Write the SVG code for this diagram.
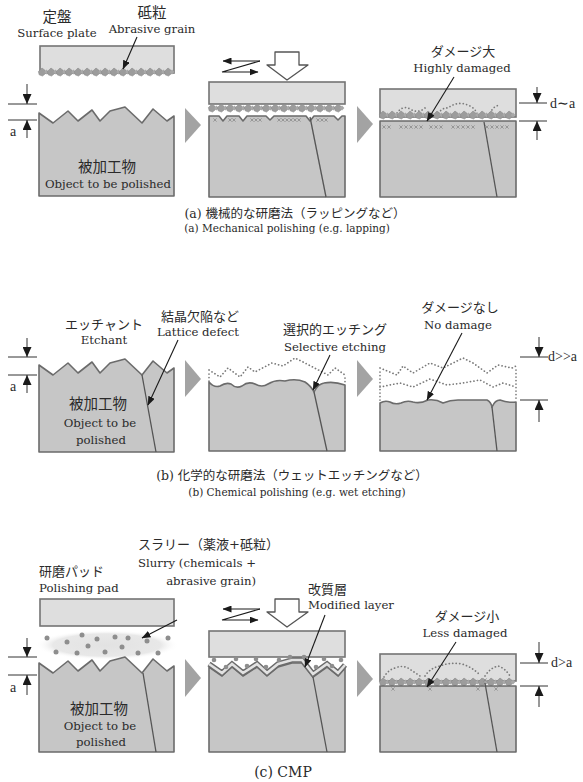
<svg xmlns="http://www.w3.org/2000/svg" width="583" height="782" viewBox="0 0 583 782">
<style>
text{fill:#2a2a2a}
.jp{font-family:"DejaVu Serif","Noto Sans CJK JP",serif;font-size:13px}
.en{font-family:"DejaVu Serif",serif;font-size:11.7px}
.dl{font-family:"Liberation Serif",serif;font-size:14px}
.big{font-size:14.5px}
.capj{font-size:12.5px}
.cap{font-size:10.5px}
.mid{text-anchor:middle}
.end{text-anchor:end}
.work{fill:#c6c6c6;stroke:#6b6b6b;stroke-width:1.6;stroke-linejoin:round}
.plate{fill:#dedede;stroke:#747474;stroke-width:1.6}
.crack{fill:none;stroke:#555;stroke-width:1.3}
.dim{stroke:#333;stroke-width:1;fill:none}
.lead{stroke:#1a1a1a;stroke-width:1.1;fill:none}
.step{fill:#a3a3a3}
.dotl{fill:none;stroke:#7a7a7a;stroke-width:1.7;stroke-dasharray:0.1 3.4;stroke-linecap:round}
.push{fill:#fff;stroke:#555;stroke-width:1.3;stroke-linejoin:round}
.sl{fill:#8e8e8e}
.xm{stroke:#8a8a8a;stroke-width:0.8;fill:none}
</style>
<defs>
  <marker id="ah" markerUnits="userSpaceOnUse" markerWidth="9" markerHeight="7" refX="8.5" refY="3.5" orient="auto"><path d="M0,0 L9,3.5 L0,7 Z" fill="#1a1a1a"/></marker>
  <marker id="dh" markerUnits="userSpaceOnUse" markerWidth="10" markerHeight="9" refX="10" refY="4.5" orient="auto"><path d="M0,0 L10,4.5 L0,9 Z" fill="#1a1a1a"/></marker>
  <radialGradient id="haze" cx="0.5" cy="0.5" r="0.5">
    <stop offset="0" stop-color="#e2e2e2"/>
    <stop offset="0.75" stop-color="#e8e8e8"/>
    <stop offset="1" stop-color="#ffffff" stop-opacity="0"/>
  </radialGradient>
  <path id="grain" d="M0,-4 L3.2,-1.5 L3.6,1.5 L0.5,4 L-2.8,2.8 L-3.6,-0.5 Z" fill="#9c9c9c" stroke="#8a8a8a" stroke-width="0.6"/>
  <path id="grainS" d="M0,-2.6 L2.4,0 L0,2.6 L-2.4,0 Z" fill="#a8a8a8"/>
  <path id="x" d="M-1.6,-1.6 L1.6,1.6 M1.6,-1.6 L-1.6,1.6" class="xm"/>
  <!-- chain of abrasive grains held on the plate face -->
  <g id="grains">
    <path d="M0,0 H132" stroke="#9a9a9a" stroke-width="1.2"/>
    <use href="#grain" x="1"/><use href="#grainS" x="5.5"/>
    <use href="#grain" x="10"/><use href="#grainS" x="14.5"/>
    <use href="#grain" x="19"/><use href="#grainS" x="23.5"/>
    <use href="#grain" x="28"/><use href="#grainS" x="32.5"/>
    <use href="#grain" x="37"/><use href="#grainS" x="41.5"/>
    <use href="#grain" x="46"/><use href="#grainS" x="50.5"/>
    <use href="#grain" x="55"/><use href="#grainS" x="59.5"/>
    <use href="#grain" x="64"/><use href="#grainS" x="68.5"/>
    <use href="#grain" x="73"/><use href="#grainS" x="77.5"/>
    <use href="#grain" x="82"/><use href="#grainS" x="86.5"/>
    <use href="#grain" x="91"/><use href="#grainS" x="95.5"/>
    <use href="#grain" x="100"/><use href="#grainS" x="104.5"/>
    <use href="#grain" x="109"/><use href="#grainS" x="113.5"/>
    <use href="#grain" x="118"/><use href="#grainS" x="122.5"/>
    <use href="#grain" x="127"/><use href="#grainS" x="131"/>
  </g>
</defs>

<!-- ===== (a) mechanical polishing ===== -->
<g id="a-plate">
  <rect class="plate" x="40" y="46" width="134" height="27"/>
  <use href="#grains" x="41" y="72"/>
  <text class="jp mid big" x="57" y="22">定盤</text>
  <text class="en mid" x="57" y="37">Surface plate</text>
  <text class="jp mid big" x="152" y="18">砥粒</text>
  <text class="en mid" x="152" y="33">Abrasive grain</text>
</g>
<g id="a-work">
  <polygon class="work" points="39,113 53,123 68,111 78,121 92,110 100,121 110,111 125,107 142,123 153,109 167,121 174,116 174,196 39,196"/>
  <text class="jp mid big" x="107" y="172">被加工物</text>
  <text class="en mid" x="108" y="188">Object to be polished</text>
</g>
<g id="a-dim">
  <path class="dim" d="M8,104 H37 M8,120 H37"/>
  <path class="dim" d="M27,84 V104" marker-end="url(#dh)"/>
  <path class="dim" d="M27,138 V120" marker-end="url(#dh)"/>
  <text class="dl" x="10" y="136">a</text>
</g>
<g id="a-lapping">
  <rect class="plate" x="209" y="82" width="136" height="22"/>
  <polygon class="work" points="209,116 219,116 223,121 227,116 239,116 243,121 247,116 266,116 270,120 274,116 306,116 310,121 314,116 334,116 338,120 342,116 345,116 345,197 209,197"/>
  <g>
    <use href="#x" x="215" y="120"/><use href="#x" x="230" y="120"/><use href="#x" x="234" y="120"/>
    <use href="#x" x="252" y="120"/><use href="#x" x="256" y="120"/><use href="#x" x="260" y="120"/>
    <use href="#x" x="279" y="120"/><use href="#x" x="283" y="120"/><use href="#x" x="287" y="120"/><use href="#x" x="291" y="120"/><use href="#x" x="295" y="120"/><use href="#x" x="299" y="120"/>
    <use href="#x" x="318" y="120"/><use href="#x" x="322" y="120"/><use href="#x" x="326" y="120"/>
  </g>
  <use href="#grains" x="211" y="108"/>
  <path class="crack" d="M310,117 L326,197"/>
  <polygon class="push" points="275,52 299,52 299,65 308,65 287,80 267,65 275,65"/>
  <path class="lead" d="M260,61 H223" marker-end="url(#ah)"/>
  <path class="lead" d="M260,61 L222,72 H258" marker-end="url(#ah)"/>
</g>
<g id="a-result">
  <rect class="plate" x="380" y="89" width="136" height="28"/>
  <path class="dotl" d="M395,116 Q402,104 410,109 Q418,114 425,108 M436,116 Q442,107 448,108 Q458,100 470,106 Q476,109 478,116 M490,113 Q495,104 500,106"/>
  <use href="#grains" x="382" y="115"/>
  <rect class="work" x="380" y="121" width="136" height="76"/>
  <g>
    <use href="#x" x="384" y="127"/><use href="#x" x="389" y="127"/>
    <use href="#x" x="401" y="127"/><use href="#x" x="406" y="127"/><use href="#x" x="411" y="127"/><use href="#x" x="416" y="127"/><use href="#x" x="421" y="127"/>
    <use href="#x" x="431" y="127"/><use href="#x" x="436" y="127"/><use href="#x" x="441" y="127"/>
    <use href="#x" x="453" y="127"/><use href="#x" x="458" y="127"/><use href="#x" x="463" y="127"/><use href="#x" x="468" y="127"/><use href="#x" x="473" y="127"/>
    <use href="#x" x="487" y="127"/><use href="#x" x="492" y="127"/><use href="#x" x="497" y="127"/><use href="#x" x="502" y="127"/><use href="#x" x="507" y="127"/>
  </g>
  <path class="crack" d="M484,122 L497,197"/>
  <text class="jp mid" x="463" y="56">ダメージ大</text>
  <text class="en mid" x="462" y="72">Highly damaged</text>
  <path class="dim" d="M519,103 H547 M519,121 H547"/>
  <path class="dim" d="M537,87 V103" marker-end="url(#dh)"/>
  <path class="dim" d="M537,140 V121" marker-end="url(#dh)"/>
  <text class="dl" x="550" y="108">d∼a</text>
</g>
<g id="a-caption">
  <text class="jp mid capj" x="295" y="218">(a) 機械的な研磨法（ラッピングなど）</text>
  <text class="en mid cap" x="287" y="232">(a) Mechanical polishing (e.g. lapping)</text>
</g>

<!-- ===== (b) chemical polishing ===== -->
<g id="b-work">
  <polygon class="work" points="39,365 53,375 68,363 78,373 92,362 100,373 110,363 125,359 142,375 153,361 167,373 174,368 174,452 39,452"/>
  <path class="crack" d="M142,375 L156,452"/>
  <text class="jp mid" x="104" y="329">エッチャント</text>
  <text class="en mid" x="104" y="344">Etchant</text>
  <text class="jp mid" x="200" y="321">結晶欠陥など</text>
  <text class="en mid" x="198" y="336">Lattice defect</text>
  <text class="jp mid big" x="98" y="409">被加工物</text>
  <text class="en mid" x="100" y="427">Object to be</text>
  <text class="en mid" x="101" y="444">polished</text>
  <path class="dim" d="M8,357 H37 M8,375 H37"/>
  <path class="dim" d="M27,338 V357" marker-end="url(#dh)"/>
  <path class="dim" d="M27,393 V375" marker-end="url(#dh)"/>
  <text class="dl" x="10" y="391">a</text>
</g>
<g id="b-etching">
  <path class="dotl" d="M209,370 L220,377 L228,368 L240,377 L248,367 L255,372 L272,363 L283,366 L295,358 L305,363 L328,375 L335,368 L345,375 M209,374 V382 M345,378 V385"/>
  <path class="work" d="M209,382 Q214,388 220,386 Q226,382 231,384 Q236,389 242,386 Q248,381 255,384 Q262,388 268,384 Q276,379 285,381 Q296,378 305,382 Q311,386 314,392 Q318,384 324,383 Q334,381 345,385 L345,451 L209,451 Z"/>
  <path class="crack" d="M314,392 L327,451"/>
  <text class="jp mid" x="335" y="334">選択的エッチング</text>
  <text class="en mid" x="335" y="351">Selective etching</text>
</g>
<g id="b-result">
  <path class="dotl" d="M380,368 L397,375 L403,366 L413,373 L430,363 L443,368 L463,358 L473,363 L487,373 L498,365 L512,368 L516,366"/>
  <path class="dotl" d="M380,387 L400,383 L413,387 L430,379 L447,385 L463,383 L480,380 L493,387 L503,383 L516,387 M380,372 V401 M516,370 V401"/>
  <path class="work" d="M380,403 Q385,400 390,402 Q395,405 401,403 Q407,400 413,402 Q420,404 428,400 Q436,399 443,403 Q450,400 458,400 L487,400 Q491,402 492,407 Q495,400 500,400 Q508,403 516,402 L516,451 L380,451 Z"/>
  <path class="crack" d="M492,407 L497,451"/>
  <text class="jp mid" x="460" y="312">ダメージなし</text>
  <text class="en mid" x="458" y="329">No damage</text>
  <path class="dim" d="M520,357 H548 M520,400 H548"/>
  <path class="dim" d="M539,337 V357" marker-end="url(#dh)"/>
  <path class="dim" d="M539,422 V400" marker-end="url(#dh)"/>
  <text class="dl" x="548" y="361">d&gt;&gt;a</text>
</g>
<g id="b-caption">
  <text class="jp mid capj" x="292" y="480">(b) 化学的な研磨法（ウェットエッチングなど）</text>
  <text class="en mid cap" x="297" y="496">(b) Chemical polishing (e.g. wet etching)</text>
</g>

<!-- ===== (c) CMP ===== -->
<g id="c-pad">
  <rect class="plate" x="40" y="599" width="134" height="27"/>
  <text class="jp" x="39" y="576">研磨パッド</text>
  <text class="en" x="39" y="592">Polishing pad</text>
</g>
<g id="c-slurry">
  <ellipse cx="107" cy="645" rx="72" ry="15" fill="url(#haze)"/>
  <circle class="sl" cx="47" cy="638" r="2.5"/><circle class="sl" cx="56" cy="652" r="2.5"/>
  <circle class="sl" cx="67" cy="642" r="2.5"/><circle class="sl" cx="77" cy="653" r="2.5"/>
  <circle class="sl" cx="82" cy="635" r="2.5"/><circle class="sl" cx="88" cy="646" r="2.5"/>
  <circle class="sl" cx="97" cy="639" r="2.5"/><circle class="sl" cx="105" cy="652" r="2.5"/>
  <circle class="sl" cx="115" cy="637" r="2.5"/><circle class="sl" cx="122" cy="647" r="2.5"/>
  <circle class="sl" cx="128" cy="638" r="2.5"/><circle class="sl" cx="138" cy="653" r="2.5"/>
  <circle class="sl" cx="147" cy="641" r="2.5"/><circle class="sl" cx="158" cy="653" r="2.5"/>
  <circle class="sl" cx="168" cy="638" r="2.5"/>
  <text class="jp" x="138" y="549">スラリー（薬液+砥粒）</text>
  <text class="en end" x="256" y="567">Slurry (chemicals +</text>
  <text class="en end" x="256" y="585">abrasive grain)</text>
</g>
<g id="c-work">
  <polygon class="work" points="39,663 53,673 68,661 78,671 92,660 100,671 110,661 125,657 142,673 153,659 167,671 174,666 174,752 39,752"/>
  <path class="crack" d="M143,673 L156,752"/>
  <text class="jp mid big" x="99" y="714">被加工物</text>
  <text class="en mid" x="100" y="730">Object to be</text>
  <text class="en mid" x="101" y="746">polished</text>
  <path class="dim" d="M8,657 H37 M8,675 H37"/>
  <path class="dim" d="M27,638 V657" marker-end="url(#dh)"/>
  <path class="dim" d="M27,695 V675" marker-end="url(#dh)"/>
  <text class="dl" x="10" y="692">a</text>
</g>
<g id="c-polishing">
  <rect class="plate" x="209" y="631" width="136" height="26"/>
  <polygon class="work" points="209,667 222,676 232,667 243,676 257,667 267,676 278,667 292,663 302,663 313,677 327,667 338,676 345,668 345,752 209,752"/>
  <polyline points="209,664 222,673 232,664 243,673 257,664 267,673 278,664 292,660 302,660 313,674 327,664 338,673 345,665" fill="none" stroke="#6b6b6b" stroke-width="5.5" stroke-linejoin="miter"/>
  <polyline points="209,664 222,673 232,664 243,673 257,664 267,673 278,664 292,660 302,660 313,674 327,664 338,673 345,665" fill="none" stroke="#e2e2e2" stroke-width="2.6" stroke-linejoin="miter"/>
  <circle class="sl" cx="214" cy="660" r="2.3"/><circle class="sl" cx="226" cy="667" r="2.3"/>
  <circle class="sl" cx="236" cy="659" r="2.3"/><circle class="sl" cx="247" cy="666" r="2.3"/>
  <circle class="sl" cx="256" cy="659" r="2.3"/><circle class="sl" cx="266" cy="667" r="2.3"/>
  <circle class="sl" cx="279" cy="660" r="2.3"/><circle class="sl" cx="290" cy="657" r="2.3"/>
  <circle class="sl" cx="304" cy="657" r="2.3"/><circle class="sl" cx="316" cy="667" r="2.3"/>
  <circle class="sl" cx="324" cy="659" r="2.3"/><circle class="sl" cx="332" cy="666" r="2.3"/>
  <circle class="sl" cx="341" cy="660" r="2.3"/>
  <path class="crack" d="M313,677 L327,752"/>
  <polygon class="push" points="275,599 299,599 299,612 308,612 287,627 267,612 275,612"/>
  <path class="lead" d="M260,609 H223" marker-end="url(#ah)"/>
  <path class="lead" d="M260,609 L222,620 H258" marker-end="url(#ah)"/>
  <text class="jp" x="308" y="594">改質層</text>
  <text class="en" x="308" y="609">Modified layer</text>
</g>
<g id="c-result">
  <rect class="plate" x="380" y="654" width="136" height="27"/>
  <path class="dotl" d="M384,677 Q388,670 395,668 Q402,665 408,668 Q414,672 420,676 M425,676 Q430,668 440,666 Q450,662 462,664 Q472,667 480,675 M485,676 Q490,668 498,666 Q505,668 510,676"/>
  <use href="#grains" x="382" y="682"/>
  <rect class="work" x="380" y="686" width="136" height="66"/>
  <g>
    <use href="#x" x="393" y="689"/><use href="#x" x="430" y="689"/>
    <use href="#x" x="478" y="689"/><use href="#x" x="496" y="689"/>
    <use href="#x" x="485" y="680"/>
  </g>
  <path class="crack" d="M485,683 L497,752"/>
  <text class="jp mid" x="467" y="621">ダメージ小</text>
  <text class="en mid" x="465" y="637">Less damaged</text>
  <path class="dim" d="M520,663 H548 M520,686 H548"/>
  <path class="dim" d="M539,642 V663" marker-end="url(#dh)"/>
  <path class="dim" d="M539,707 V686" marker-end="url(#dh)"/>
  <text class="dl" x="551" y="667">d&gt;a</text>
</g>
<g id="c-caption">
  <text class="jp mid" x="283" y="777" style="font-size:14px">(c) CMP</text>
</g>

<!-- process-step arrows and leader lines -->
<g id="connectors">
  <polygon class="step" points="185,108 201,125 185,143"/>
  <polygon class="step" points="357,106 373,124 357,143"/>
  <polygon class="step" points="185,360 201,379 185,397"/>
  <polygon class="step" points="357,360 373,379 357,397"/>
  <polygon class="step" points="185,659 201,678 185,697"/>
  <polygon class="step" points="357,660 373,679 357,697"/>
  <path class="lead" d="M137,37 L123,69" marker-end="url(#ah)"/>
  <path class="lead" d="M454,77 L427,121" marker-end="url(#ah)"/>
  <path class="lead" d="M178,340 L148,405" marker-end="url(#ah)"/>
  <path class="lead" d="M330,355 L313,390" marker-end="url(#ah)"/>
  <path class="lead" d="M462,333 L427,400" marker-end="url(#ah)"/>
  <path class="lead" d="M177,620 L142,638" marker-end="url(#ah)"/>
  <path class="lead" d="M325,615 L305,667" marker-end="url(#ah)"/>
  <path class="lead" d="M456,642 L427,687" marker-end="url(#ah)"/>
</g>
</svg>
